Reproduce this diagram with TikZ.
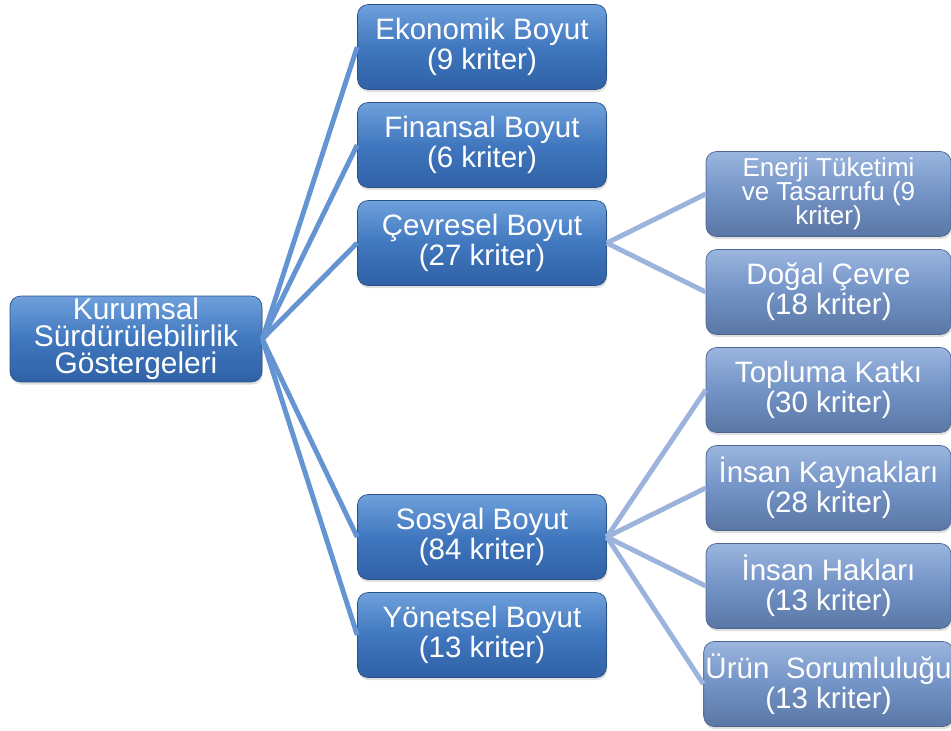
\documentclass[tikz,border=0pt]{standalone}
\usepackage{fontspec}
\setmainfont{Liberation Sans}
\usepackage{xcolor}
\usetikzlibrary{shadows}
\definecolor{mainT}{HTML}{6FA0DC}
\definecolor{mainM}{HTML}{4077BE}
\definecolor{mainB}{HTML}{3061A6}
\definecolor{mainD}{HTML}{2A5288}
\definecolor{subT}{HTML}{9AB5DE}
\definecolor{subM}{HTML}{7393C6}
\definecolor{subB}{HTML}{5A77A4}
\definecolor{subD}{HTML}{4C668F}
\definecolor{linkA}{HTML}{6594D2}
\definecolor{linkB}{HTML}{9CB4DC}
\newcommand{\tightlines}{\lineskiplimit-100pt\relax}

\begin{document}
\begin{tikzpicture}[x=0.02cm, y=-0.02cm,
    box/.style={rounded corners=6pt, text=white, align=center, inner sep=1pt,
      font=\fontsize{16.8}{17}\selectfont, minimum height=1.7cm,
      drop shadow={opacity=0.25, shadow xshift=0.5pt, shadow yshift=-1.5pt}},
    main/.style={box, draw=mainD, top color=mainT, bottom color=mainB, middle color=mainM,
      minimum width=4.98cm},
    sub/.style={box, draw=subD, top color=subT, bottom color=subB, middle color=subM,
      minimum width=4.9cm},
    linkmain/.style={line width=2.8pt, linkA},
    linksub/.style={line width=2.8pt, linkB}]
    \useasboundingbox (0,0) rectangle (951,731);
    \node[main, minimum width=5.04cm, font=\fontsize{17}{15.5}\selectfont] (r) at (136, 339) {Kurumsal\\Sürdürülebilirlik\\Göstergeleri};
    \node[main] (e) at (482, 47) {Ekonomik Boyut\\(9 kriter)};
    \node[main] (f) at (482, 145) {Finansal Boyut\\(6 kriter)};
    \node[main] (c) at (482, 243) {Çevresel Boyut\\(27 kriter)};
    \node[main] (s) at (482, 537) {Sosyal Boyut\\(84 kriter)};
    \node[main] (y) at (482, 635) {Yönetsel Boyut\\(13 kriter)};
    \node[sub, font={\fontsize{14.8}{13.6}\selectfont\tightlines}] (en) at (828.5, 194) {Enerji Tüketimi\\ve Tasarrufu (9\\kriter)};
    \node[sub] (dc) at (828.5, 292) {Doğal Çevre\\(18 kriter)};
    \node[sub] (tk) at (828.5, 390) {Topluma Katkı\\(30 kriter)};
    \node[sub] (ik) at (828.5, 488) {İnsan Kaynakları\\(28 kriter)};
    \node[sub] (ih) at (828.5, 586) {İnsan Hakları\\(13 kriter)};
    \node[sub] (ur) at (828.5, 684) {Ürün~ Sorumluluğu\\(13 kriter)};
    \draw [linkmain] (r.east) to (e.west);
    \draw [linkmain] (r.east) to (f.west);
    \draw [linkmain] (r.east) to (c.west);
    \draw [linkmain] (r.east) to (s.west);
    \draw [linkmain] (r.east) to (y.west);
    \draw [linksub] (c.east) to (en.west);
    \draw [linksub] (c.east) to (dc.west);
    \draw [linksub] (s.east) to (tk.west);
    \draw [linksub] (s.east) to (ik.west);
    \draw [linksub] (s.east) to (ih.west);
    \draw [linksub] (s.east) to (ur.west);
  \end{tikzpicture}
\end{document}
